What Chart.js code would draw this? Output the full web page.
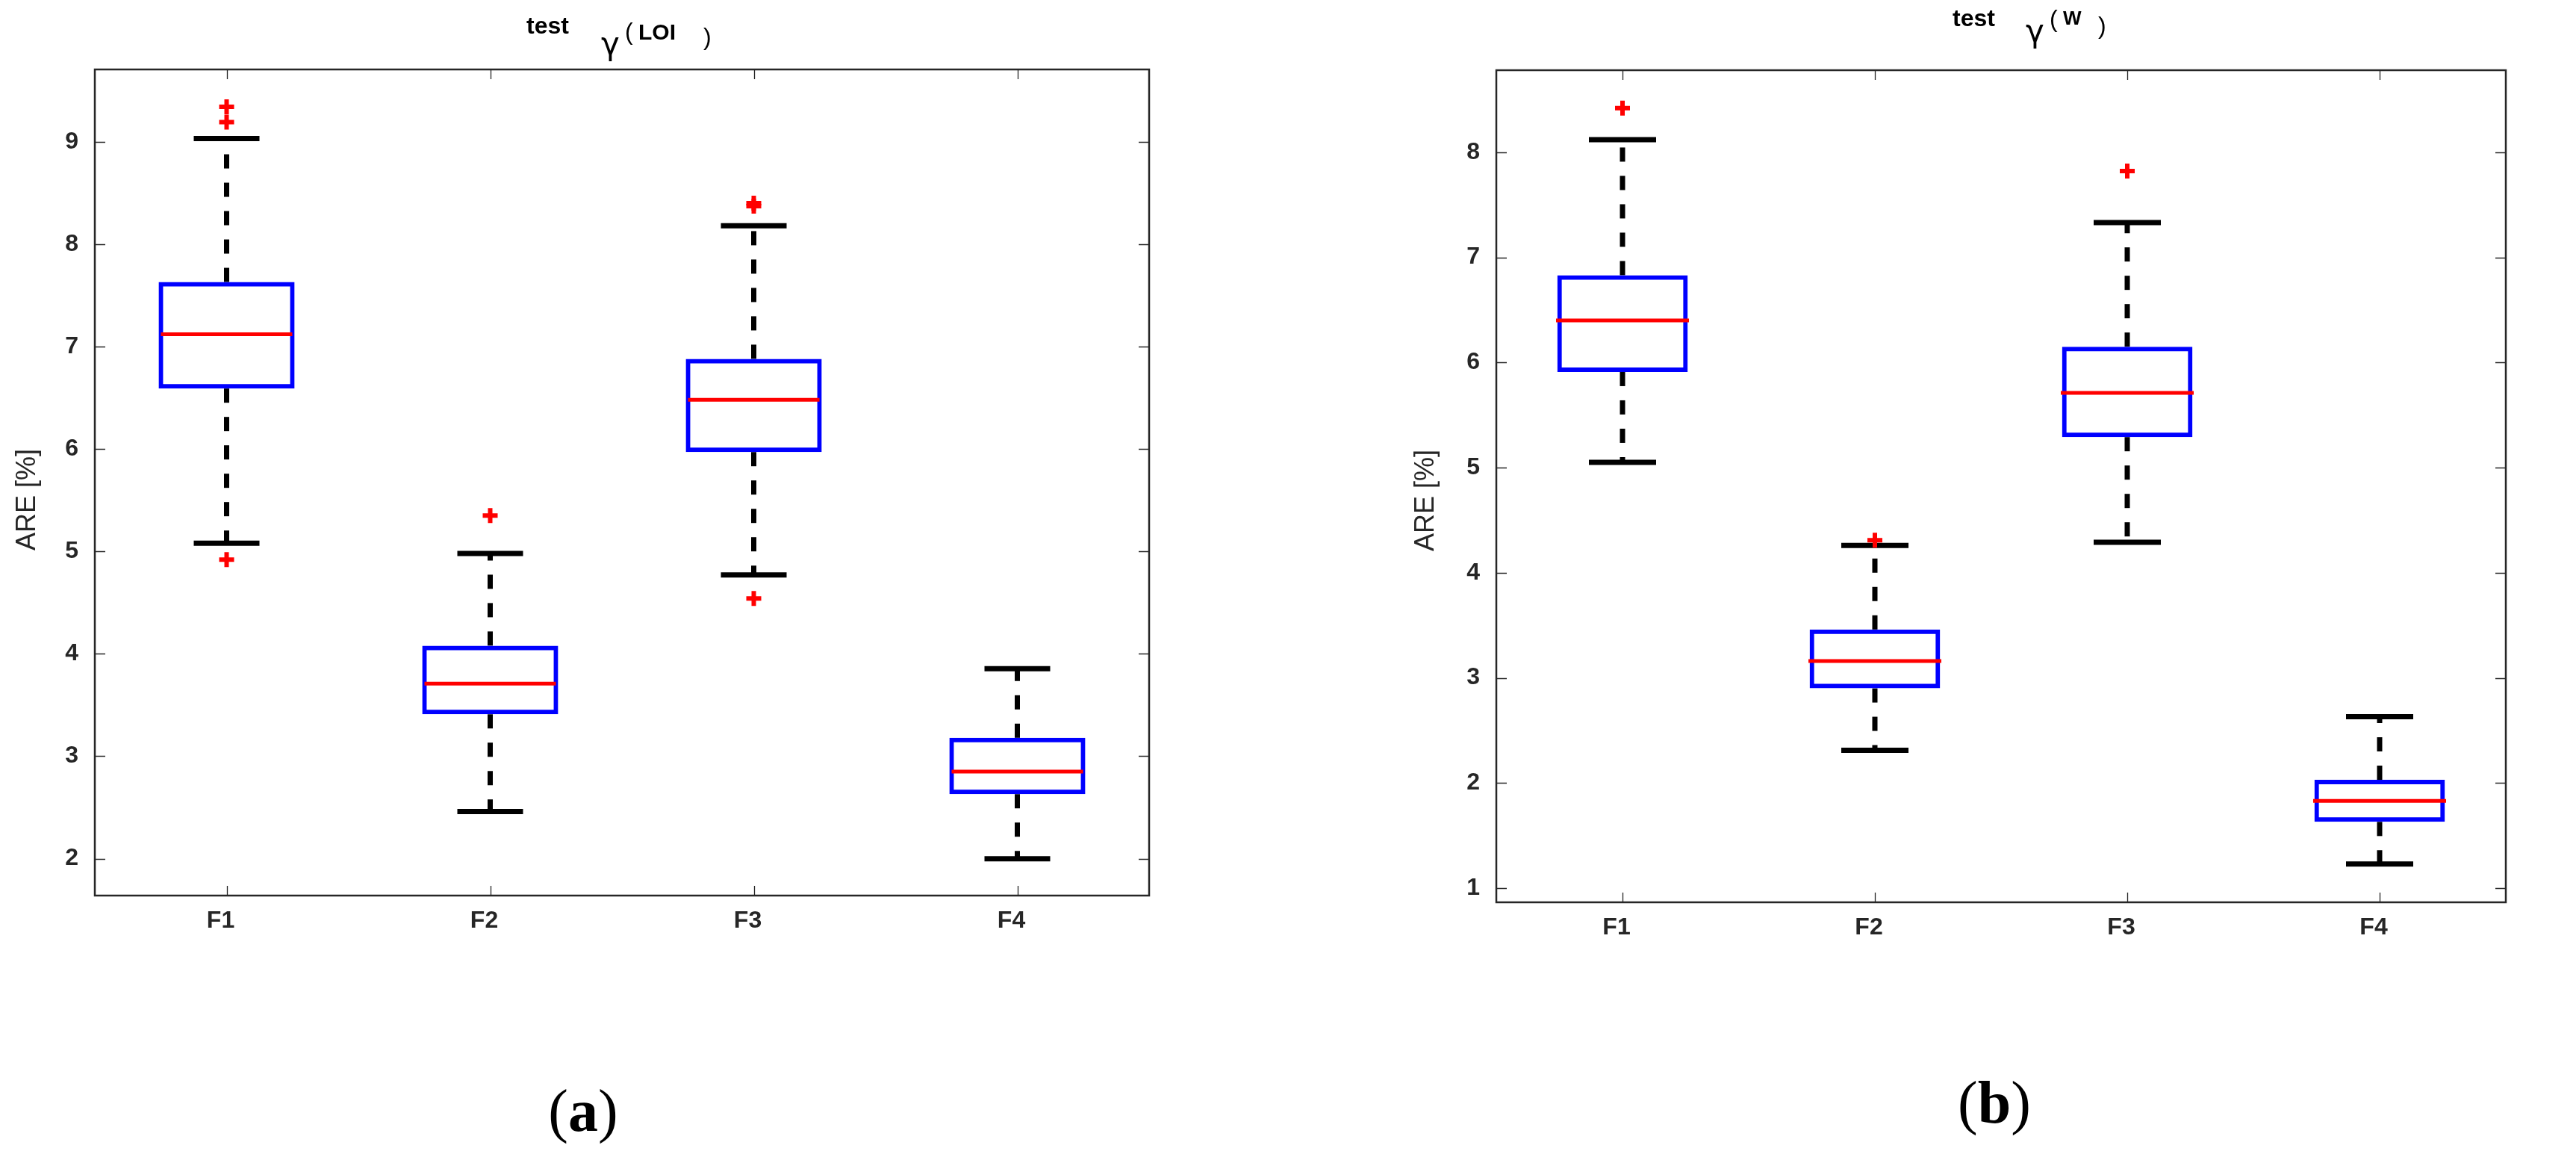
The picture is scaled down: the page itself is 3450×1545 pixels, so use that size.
<!DOCTYPE html>
<html>
<head>
<meta charset="utf-8">
<script src="https://cdn.jsdelivr.net/npm/chart.js@4.4.1/dist/chart.umd.min.js"></script>
<style>
html,body{margin:0;padding:0;background:#fff;width:3450px;height:1545px;overflow:hidden}
.wrap{position:absolute;top:0;width:1725px;height:1545px}
</style>
</head>
<body>
<div class="wrap" style="left:0"><canvas id="cA"></canvas></div>
<div class="wrap" style="left:1725px"><canvas id="cB"></canvas></div>
<script>
// ---------- data ----------
const categories = ['F1', 'F2', 'F3', 'F4'];

// panel (a): test γ(LOI)
const lowA  = [5.08, 2.46, 4.77, 2.00];
const q1A   = [6.59, 3.41, 5.97, 2.63];
const medA  = [7.12, 3.71, 6.48, 2.85];
const q3A   = [7.63, 4.08, 6.88, 3.18];
const highA = [9.03, 4.98, 8.18, 3.855];
const outliersA = [[9.34, 9.19, 4.92], [5.35], [8.40, 8.37, 4.54], []];
const yTicksA = [2, 3, 4, 5, 6, 7, 8, 9];
const yRangeA = [1.64, 9.705];

// panel (b): test γ(W)
const lowB  = [5.05, 2.31, 4.29, 1.23];
const q1B   = [5.91, 2.90, 5.29, 1.63];
const medB  = [6.40, 3.16, 5.71, 1.83];
const q3B   = [6.83, 3.46, 6.15, 2.03];
const highB = [8.12, 4.26, 7.33, 2.63];
const outliersB = [[8.42], [4.31], [7.82], []];
const yTicksB = [1, 2, 3, 4, 5, 6, 7, 8];
const yRangeB = [0.865, 8.78];

const yLabel = 'ARE [%]';

// ---------- helpers ----------
Chart.defaults.font.family = '"Liberation Sans", Arial, Helvetica, sans-serif';
Chart.defaults.color = '#262626';

const AXIS = '#262626';
const SANS = '"Liberation Sans", Arial, sans-serif';
const SERIF = '"Liberation Serif", "Times New Roman", serif';

const decorPlugin = {
  id: 'decor',
  afterDraw(chart, args, opts) {
    const ctx = chart.ctx;
    const {left, right, top, bottom} = chart.chartArea;
    const xs = chart.scales.x, ys = chart.scales.y;
    ctx.save();
    // frame
    ctx.strokeStyle = AXIS;
    ctx.lineWidth = 2.5;
    ctx.strokeRect(left, top, right - left, bottom - top);
    // inner tick marks
    ctx.lineWidth = 1.3;
    ctx.beginPath();
    ys.ticks.forEach(t => {
      const y = Math.round(ys.getPixelForValue(t.value)) + 0.5;
      ctx.moveTo(left, y); ctx.lineTo(left + 14, y);
      ctx.moveTo(right, y); ctx.lineTo(right - 14, y);
    });
    xs.ticks.forEach((t, i) => {
      const x = Math.round(xs.getPixelForValue(i)) + 0.5;
      ctx.moveTo(x, bottom); ctx.lineTo(x, bottom - 13);
      ctx.moveTo(x, top); ctx.lineTo(x, top + 13);
    });
    ctx.stroke();
    // text pieces
    ctx.fillStyle = '#000';
    ctx.textBaseline = 'alphabetic';
    (opts.pieces || []).forEach(p => {
      ctx.font = p.font;
      ctx.textAlign = 'left';
      ctx.fillText(p.text, p.x, p.y);
    });
    // centered composite label like (a)
    if (opts.panelLabel) {
      const pl = opts.panelLabel;
      let total = 0;
      const w = pl.parts.map(pt => { ctx.font = pt.font; const m = ctx.measureText(pt.text).width; total += m; return m; });
      let x = pl.cx - total / 2;
      pl.parts.forEach((pt, i) => { ctx.font = pt.font; ctx.textAlign = 'left'; ctx.fillText(pt.text, x, pl.y); x += w[i]; });
    }
    // rotated y title
    if (opts.yTitle) {
      const t = opts.yTitle;
      ctx.fillStyle = '#262626';
      ctx.translate(t.x, t.y);
      ctx.rotate(-Math.PI / 2);
      ctx.font = t.font;
      ctx.textAlign = 'center';
      ctx.textBaseline = 'middle';
      ctx.fillText(t.text, 0, 0);
    }
    ctx.restore();
  }
};

function pts(values) {
  return values.map((v, i) => ({x: categories[i], y: v}));
}

function makeChart(id, d, L) {
  const whisker = [];
  categories.forEach((c, i) => {
    whisker.push({x: c, y: d.q3[i]}, {x: c, y: d.high[i]}, {x: c, y: null});
    whisker.push({x: c, y: d.q1[i]}, {x: c, y: d.low[i]}, {x: c, y: null});
  });
  const caps = [];
  categories.forEach((c, i) => { caps.push({x: c, y: d.high[i]}, {x: c, y: d.low[i]}); });
  const outs = [];
  d.outliers.forEach((arr, i) => arr.forEach(v => outs.push({x: categories[i], y: v})));

  return new Chart(document.getElementById(id), {
    type: 'bar',
    data: {
      labels: categories,
      datasets: [
        {
          type: 'line', label: 'whiskers', data: whisker, order: 5,
          borderColor: '#000', borderWidth: 7, borderDash: [19, 19], borderCapStyle: 'butt',
          pointRadius: 0, spanGaps: false, fill: false,
          segment: {borderDash: () => [19, 19]}
        },
        {
          type: 'line', label: 'caps', data: caps, order: 4, showLine: false,
          pointStyle: 'line', pointRadius: L.capR, pointHoverRadius: L.capR,
          pointBorderWidth: 7, pointHoverBorderWidth: 7, pointBorderColor: '#000', pointBackgroundColor: '#000'
        },
        {
          type: 'bar', label: 'box', data: d.q1.map((v, i) => [v, d.q3[i]]), order: 3,
          backgroundColor: 'rgba(0,0,0,0)', borderColor: '#0000ff', borderWidth: 6,
          borderSkipped: false, barPercentage: L.barPct, categoryPercentage: 1
        },
        {
          type: 'line', label: 'median', data: pts(d.med), order: 2, showLine: false,
          pointStyle: 'line', pointRadius: L.medR, pointHoverRadius: L.medR,
          pointBorderWidth: 5, pointHoverBorderWidth: 5, pointBorderColor: '#ff0000', pointBackgroundColor: '#ff0000'
        },
        {
          type: 'line', label: 'outliers', data: outs, order: 1, showLine: false,
          pointStyle: 'cross', pointRadius: 10, pointHoverRadius: 10,
          pointBorderWidth: 6, pointHoverBorderWidth: 6, pointBorderColor: '#ff0000', pointBackgroundColor: '#ff0000'
        }
      ]
    },
    options: {
      responsive: true,
      maintainAspectRatio: false,
      devicePixelRatio: 1,
      animation: false,
      events: [],
      layout: {padding: L.padding},
      plugins: {
        legend: {display: false},
        tooltip: {enabled: false},
        decor: {pieces: L.pieces, yTitle: L.yTitle, panelLabel: L.panelLabel}
      },
      scales: {
        x: {
          type: 'category', offset: true,
          grid: {display: false, drawTicks: false},
          border: {display: false},
          ticks: {padding: 15, labelOffset: -8, font: {size: 32, weight: 'bold'}, color: '#262626'},
          afterFit: s => { s.height = 60; }
        },
        y: {
          type: 'linear', min: d.range[0], max: d.range[1],
          grid: {display: false, drawTicks: false},
          border: {display: false},
          ticks: {padding: 22, font: {size: 32, weight: 'bold'}, color: '#262626'},
          afterBuildTicks: s => { s.ticks = d.yTicks.map(v => ({value: v})); },
          afterFit: s => { s.width = 127; }
        }
      }
    },
    plugins: [decorPlugin]
  });
}

makeChart('cA',
  {low: lowA, q1: q1A, med: medA, q3: q3A, high: highA, outliers: outliersA, yTicks: yTicksA, range: yRangeA},
  {
    padding: {left: 0, right: 186, top: 87, bottom: 286},
    barPct: 0.516, capR: 44, medR: 88,
    pieces: [
      {text: 'test', x: 705, y: 45, font: 'bold 32px ' + SANS},
      {text: 'γ', x: 805, y: 73, font: '42px "DejaVu Sans", sans-serif'},
      {text: '(', x: 837, y: 53, font: '32px ' + SANS},
      {text: 'LOI', x: 855, y: 53, font: 'bold 30px ' + SANS},
      {text: ')', x: 942, y: 60, font: '32px ' + SANS}
    ],
    yTitle: {text: yLabel, x: 37, y: 669, font: '36px ' + SANS},
    panelLabel: {cx: 781, y: 1514, parts: [
      {text: '(', font: '80px ' + SERIF}, {text: 'a', font: 'bold 80px ' + SERIF}, {text: ')', font: '80px ' + SERIF}
    ]}
  });

makeChart('cB',
  {low: lowB, q1: q1B, med: medB, q3: q3B, high: highB, outliers: outliersB, yTicks: yTicksB, range: yRangeB},
  {
    padding: {left: 152, right: 14, top: 78, bottom: 277},
    barPct: 0.517, capR: 45, medR: 89,
    pieces: [
      {text: 'test', x: 890, y: 35, font: 'bold 32px ' + SANS},
      {text: 'γ', x: 988, y: 56, font: '42px "DejaVu Sans", sans-serif'},
      {text: '(', x: 1020, y: 36, font: '32px ' + SANS},
      {text: 'W', x: 1038, y: 33, font: 'bold 26px ' + SANS},
      {text: ')', x: 1085, y: 45, font: '32px ' + SANS}
    ],
    yTitle: {text: yLabel, x: 185, y: 670, font: '36px ' + SANS},
    panelLabel: {cx: 946, y: 1503, parts: [
      {text: '(', font: '80px ' + SERIF}, {text: 'b', font: 'bold 80px ' + SERIF}, {text: ')', font: '80px ' + SERIF}
    ]}
  });
</script>
</body>
</html>
